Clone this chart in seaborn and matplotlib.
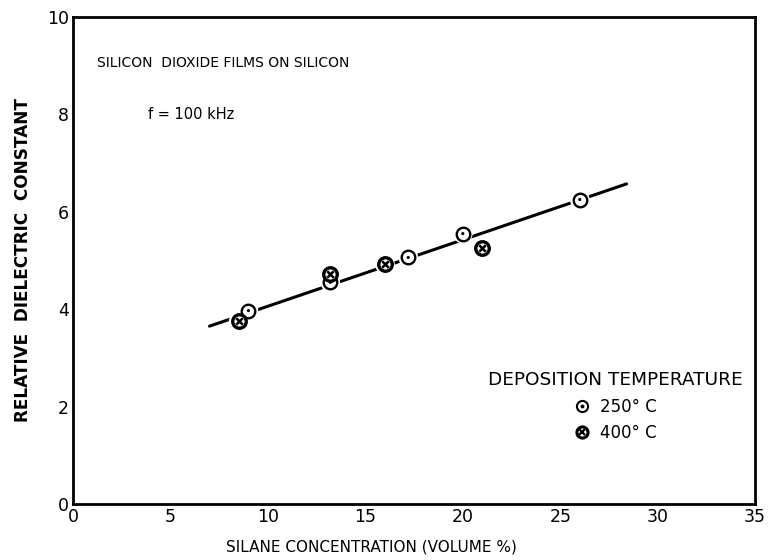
import matplotlib.pyplot as plt
import pandas as pd
import seaborn as sns
from matplotlib.legend_handler import HandlerTuple
from matplotlib.lines import Line2D

# ==========================
# Datos
# ==========================
x_250 = [9.0, 13.2, 17.2, 20.0, 26.0]
y_250 = [3.97, 4.55, 5.06, 5.55, 6.25]

x_400 = [8.5, 13.2, 16.0, 21.0]
y_400 = [3.75, 4.73, 4.92, 5.25]

# recta de ajuste (extremos)
fit_x = [7.0, 28.4]
fit_y = [3.65, 6.57]

x_ticks = [0, 5, 10, 15, 20, 25, 30, 35]
y_ticks = [0, 2, 4, 6, 8, 10]

df250 = pd.DataFrame({"x": x_250, "y": y_250})
df400 = pd.DataFrame({"x": x_400, "y": y_400})
df_fit = pd.DataFrame({"x": fit_x, "y": fit_y})

sns.set_style("white")
plt.rcParams["font.family"] = ["DejaVu Sans"]
plt.rcParams["text.color"] = "black"
plt.rcParams["axes.labelcolor"] = "black"
plt.rcParams["xtick.color"] = "black"
plt.rcParams["ytick.color"] = "black"

fig = plt.figure(figsize=(7.69, 5.60), dpi=100)
ax = fig.add_axes([0.095, 0.10, 0.887, 0.87])

# recta
sns.lineplot(data=df_fit, x="x", y="y", ax=ax, color="black", lw=2.2, zorder=1)

# halo blanco para cortar la recta alrededor de los puntos
both = pd.concat([df250, df400])
sns.scatterplot(data=both, x="x", y="y", ax=ax, marker="o", s=200,
                color="white", edgecolor="none", linewidth=0, zorder=2)

# 250 °C: círculo abierto con punto central
sns.scatterplot(data=df250, x="x", y="y", ax=ax, marker="o", s=95,
                facecolor="white", edgecolor="black", linewidth=1.7, zorder=3)
sns.scatterplot(data=df250, x="x", y="y", ax=ax, marker="o", s=5,
                color="black", edgecolor="none", zorder=4)

# 400 °C: círculo con cruz
sns.scatterplot(data=df400, x="x", y="y", ax=ax, marker="o", s=95,
                facecolor="white", edgecolor="black", linewidth=2.4, zorder=3)
sns.scatterplot(data=df400, x="x", y="y", ax=ax, marker="x", s=22,
                color="black", linewidth=1.8, zorder=4)

ax.set_xlim(0, 35)
ax.set_ylim(0, 10)
ax.set_xticks(x_ticks)
ax.set_yticks(y_ticks)
ax.tick_params(direction="in", length=7, width=1.5, labelsize=12.5,
               top=False, right=False, pad=3)
for s in ax.spines.values():
    s.set_linewidth(2)
    s.set_color("black")

ax.set_xlabel("SILANE CONCENTRATION (VOLUME %)", fontsize=11)
ax.set_ylabel("RELATIVE  DIELECTRIC  CONSTANT", fontsize=12.2,
              fontweight="bold")
ax.xaxis.set_label_coords(0.438, -0.072)
ax.yaxis.set_label_coords(-0.06, 0.5)

ax.text(0.035, 0.905, "SILICON  DIOXIDE FILMS ON SILICON",
        transform=ax.transAxes, fontsize=10, ha="left", va="center")
ax.text(0.11, 0.80, "f = 100 kHz", transform=ax.transAxes,
        fontsize=10.5, ha="left", va="center")

# leyenda
h250 = (Line2D([], [], ls="", marker="o", ms=8, mfc="white", mec="black", mew=1.5),
        Line2D([], [], ls="", marker="o", ms=1.8, color="black"))
h400 = (Line2D([], [], ls="", marker="o", ms=8, mfc="white", mec="black", mew=2.2),
        Line2D([], [], ls="", marker="x", ms=4, color="black", mew=1.6))
leg = ax.legend([h250, h400], ["250° C", "400° C"],
                handler_map={tuple: HandlerTuple(ndivide=1)},
                title="DEPOSITION TEMPERATURE", frameon=False,
                loc="center", bbox_to_anchor=(0.795, 0.20),
                fontsize=12, title_fontsize=13.3, alignment="center",
                handlelength=1.0, handletextpad=0.6, labelspacing=0.5)

fig.savefig("out.png", dpi=100)
